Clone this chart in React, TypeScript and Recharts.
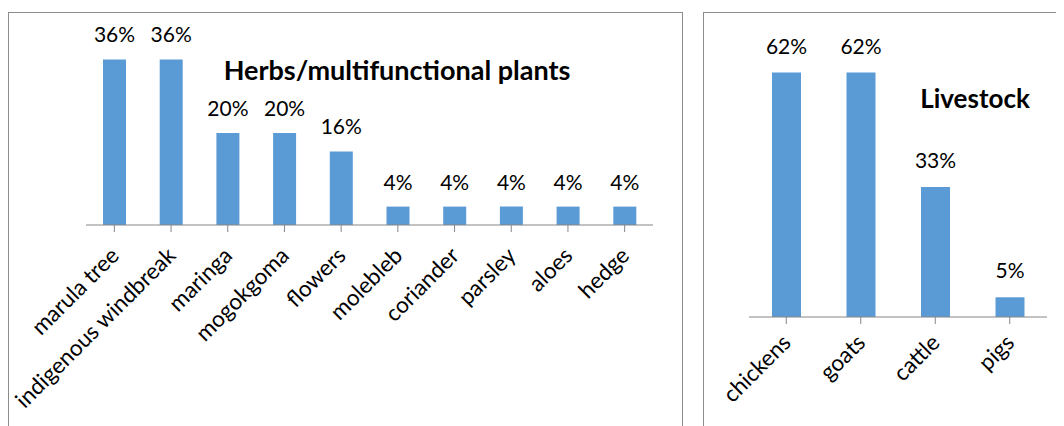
import React from "react";
import { BarChart, Bar, XAxis, YAxis, LabelList } from "recharts";

const plantNames = [
  "marula tree",
  "indigenous windbreak",
  "maringa",
  "mogokgoma",
  "flowers",
  "molebleb",
  "coriander",
  "parsley",
  "aloes",
  "hedge",
];
const plantShares = [36, 36, 20, 20, 16, 4, 4, 4, 4, 4];

const livestockNames = ["chickens", "goats", "cattle", "pigs"];
const livestockShares = [62, 62, 33, 5];

const BAR = "#5B9BD5";
const AXIS = "#868686";
const FONT = "Lato, 'Open Sans', sans-serif";

const plantData = plantNames.map((name, i) => ({ name, value: plantShares[i] }));
const livestockData = livestockNames.map((name, i) => ({ name, value: livestockShares[i] }));

function SlantTick(props: any) {
  const { x, y, payload, dx = 10, dy = 24 } = props;
  const ax = x + dx;
  const ay = y + dy;
  return (
    <text
      x={ax}
      y={ay}
      textAnchor="end"
      fontSize={22.5}
      fontFamily={FONT}
      fill="#000"
      transform={`rotate(-45, ${ax}, ${ay})`}
    >
      {payload.value}
    </text>
  );
}

const panel: React.CSSProperties = {
  position: "absolute",
  top: 4,
  height: 440,
  boxSizing: "border-box",
  border: "1px solid #8c8c8c",
  background: "#fff",
};

const titleStyle: React.CSSProperties = {
  position: "absolute",
  fontFamily: FONT,
  fontWeight: 700,
  fontSize: 26,
  color: "#000",
  whiteSpace: "nowrap",
  transform: "translateX(-50%)",
  lineHeight: 1,
};

const labelStyle = { fontSize: 21, fontFamily: FONT, fill: "#000" };

export default function App() {
  return (
    <div style={{ position: "relative", width: 1056, height: 418, overflow: "hidden", fontFamily: FONT }}>
      <div style={{ ...panel, left: 0, width: 675, borderBottom: "none" }}>
        <BarChart
          width={673}
          height={413}
          data={plantData}
          margin={{ top: 28, right: 29, bottom: 0, left: 77 }}
        >
          <XAxis
            dataKey="name"
            interval={0}
            height={201}
            tickSize={7}
            stroke={AXIS}
            tickLine={{ stroke: AXIS }}
            tick={<SlantTick dx={6} dy={23} />}
          />
          <YAxis hide domain={[0, 40]} />
          <Bar dataKey="value" fill={BAR} barSize={23} isAnimationActive={false}>
            <LabelList
              dataKey="value"
              position="top"
              offset={17}
              formatter={(v: any) => `${v}%`}
              style={labelStyle}
            />
          </Bar>
        </BarChart>
        <div style={{ ...titleStyle, fontSize: 27, left: 388, top: 43 }}>Herbs/multifunctional plants</div>
      </div>
      <div style={{ ...panel, left: 695, width: 420, borderBottom: "none", borderRight: "none" }}>
        <BarChart
          width={360}
          height={413}
          data={livestockData}
          margin={{ top: 28, right: 17, bottom: 0, left: 45 }}
        >
          <XAxis
            dataKey="name"
            interval={0}
            height={109}
            tickSize={7}
            stroke={AXIS}
            tickLine={{ stroke: AXIS }}
            tick={<SlantTick dx={6} dy={18} />}
          />
          <YAxis hide domain={[0, 70]} />
          <Bar dataKey="value" fill={BAR} barSize={29} isAnimationActive={false}>
            <LabelList
              dataKey="value"
              position="top"
              offset={19}
              formatter={(v: any) => `${v}%`}
              style={labelStyle}
            />
          </Bar>
        </BarChart>
        <div style={{ ...titleStyle, left: 271, top: 72 }}>Livestock</div>
      </div>
    </div>
  );
}
